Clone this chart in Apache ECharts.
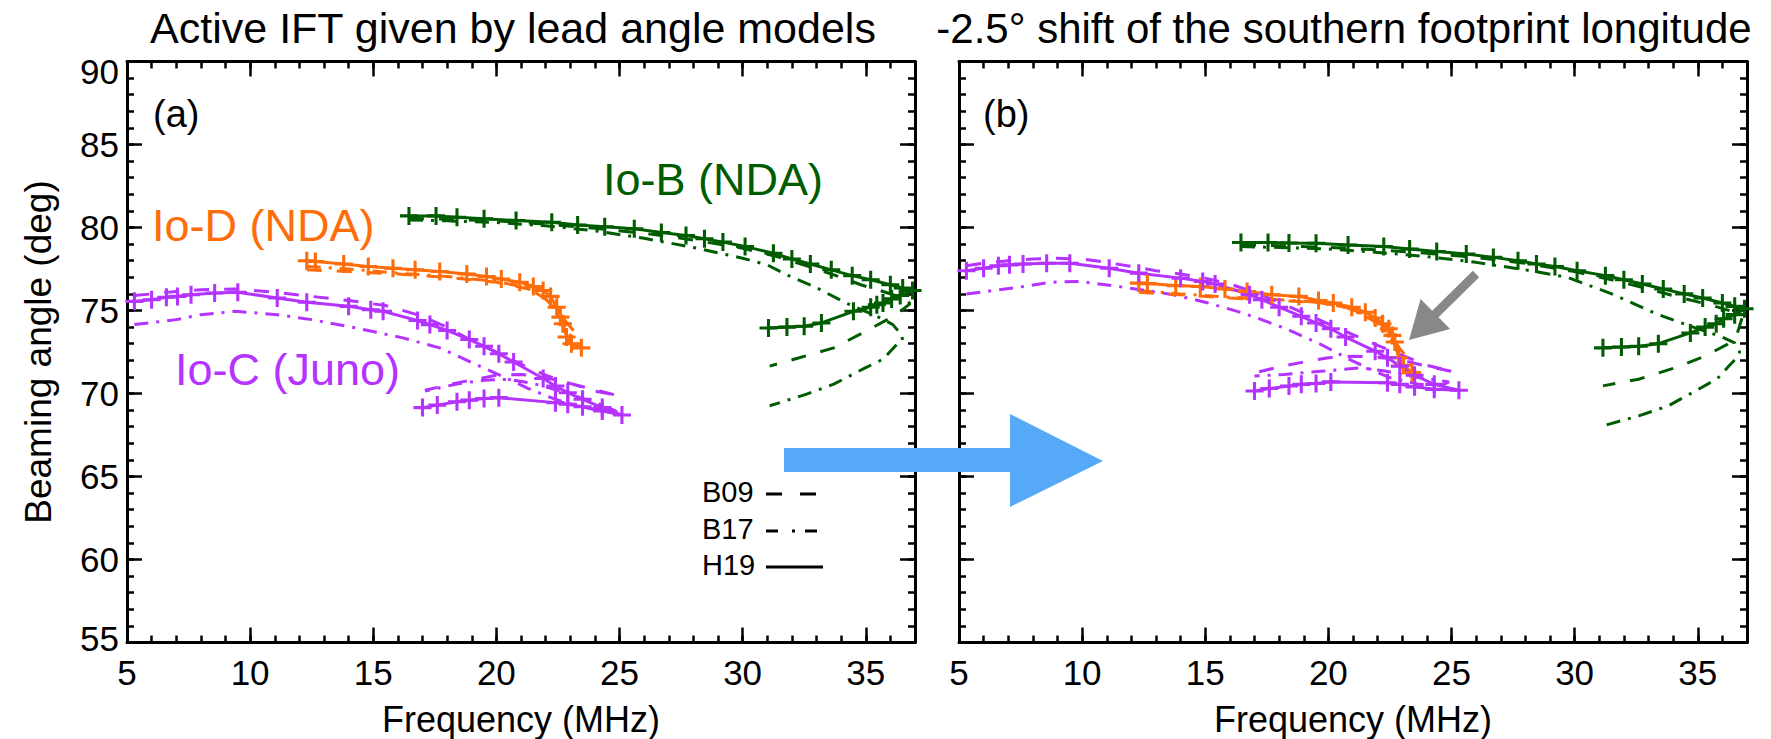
<!DOCTYPE html>
<html>
<head>
<meta charset="utf-8">
<script src="https://cdn.jsdelivr.net/npm/echarts/dist/echarts.min.js"></script>
<style>html,body{margin:0;padding:0;background:#fff}#chart{width:1771px;height:739px}</style>
</head>
<body>
<div id="chart"></div>
<script>
// ---------- tick labels / axis ranges ----------
const xRange = [5, 37];
const yRange = [55, 90];
const xMajorStep = 5, xMinorStep = 1;
const yMajorStep = 5, yMinorStep = 1;
const panelTitles = ['Active IFT given by lead angle models', '-2.5\u00b0 shift of the southern footprint longitude'];
const panelLetters = ['(a)', '(b)'];
const modelNames = ['B09', 'B17', 'H19'];
const iftNames = ['Io-B (NDA)', 'Io-D (NDA)', 'Io-C (Juno)'];

// ---------- panel (a): lead angle models ----------
const A_IoB_H19 = [[16.45,80.7],[17.55,80.7],[18.4,80.62],[19.5,80.52],[20.8,80.42],[22.25,80.32],[23.3,80.15],[24.4,80.05],[25.6,79.92],[26.7,79.7],[27.7,79.52],[28.45,79.32],[29.2,79.12],[30.1,78.85],[31.25,78.45],[32.0,78.1],[32.75,77.8],[33.6,77.45],[34.45,77.1],[35.2,76.85],[36.0,76.55],[36.5,76.35],[36.9,76.2],[36.4,75.9],[36.05,75.7],[35.7,75.45],[35.45,75.35],[35.2,75.2],[34.5,74.95],[33.2,74.25],[32.5,74.05],[31.8,74.0],[31.05,73.95]];
const A_IoB_B09 = [[16.45,80.55],[18,80.5],[20,80.4],[22,80.2],[24,79.95],[26,79.65],[28,79.25],[30,78.75],[31.5,78.2],[33,77.5],[34,77.0],[34.8,76.55],[35.8,76.1],[36.6,75.7],[36.8,75.4],[36.4,74.95],[36.0,74.55],[35.0,73.75],[33.7,72.75],[32.3,72.15],[31.1,71.65]];
const A_IoB_B17 = [[16.45,80.45],[18,80.4],[20,80.3],[22,80.1],[24,79.8],[26,79.35],[28,78.8],[30,78.15],[31,77.75],[32,77.0],[32.9,76.45],[34.2,75.45],[35.6,74.55],[36.1,74.15],[36.45,73.55],[36.5,73.2],[36.26,72.96],[35.7,72.06],[35.0,71.56],[33.7,70.56],[32.6,69.96],[31.1,69.26]];

const A_IoD_H19 = [[12.3,78.0],[12.65,77.95],[13.8,77.8],[14.8,77.65],[15.8,77.55],[16.7,77.45],[17.7,77.35],[18.8,77.2],[19.6,77.05],[20.2,76.9],[20.95,76.7],[21.5,76.45],[21.9,76.2],[22.2,75.85],[22.45,75.2],[22.6,74.6],[22.7,74.2],[22.85,73.4],[23.05,73.0],[23.45,72.75]];
const A_IoD_B09 = [[12.3,77.45],[14,77.35],[16,77.2],[18,77.0],[20,76.7],[21.3,76.3],[22.0,75.7],[22.5,74.9],[22.9,74.2],[23.15,73.75]];
const A_IoD_B17 = [[12.3,77.65],[14,77.5],[16,77.25],[18,77.05],[20,76.75],[21.3,76.35],[22.1,75.6],[22.6,74.6],[23.0,73.5],[23.3,72.9]];

const A_IoC_H19 = [[5.3,75.55],[6.0,75.65],[6.6,75.8],[7.05,75.85],[7.6,75.95],[8.56,76.05],[9.5,76.1],[11.1,75.75],[12.3,75.5],[14.0,75.25],[14.9,75.05],[15.4,74.95],[16.8,74.4],[17.3,74.15],[18.0,73.8],[18.9,73.25],[19.5,72.85],[20.1,72.4],[20.7,71.9],[21.9,70.9],[22.4,70.45],[22.9,70.05],[23.5,69.65],[24.3,69.15],[25.1,68.7],[24.3,68.95],[23.5,69.2],[22.9,69.35],[22.4,69.45],[20.1,69.75],[19.5,69.7],[18.9,69.6],[18.4,69.5],[17.6,69.3],[17.0,69.15]];
const A_IoC_B09 = [[5.3,75.9],[6,76.0],[7,76.15],[8,76.25],[9.4,76.3],[11,76.1],[12.5,75.85],[14,75.6],[15.5,75.3],[16.9,74.7],[18,74.0],[19.1,73.1],[20,72.5],[21,71.75],[22,71.1],[23,70.6],[24,70.15],[25.0,69.85],[24.2,70.15],[23.0,70.6],[22.0,70.95],[21.0,71.15],[20.0,71.1],[18.6,70.7],[17.1,70.2]];
const A_IoC_B17 = [[5.3,74.15],[7.0,74.45],[8.0,74.75],[9.4,74.95],[11.1,74.75],[12.5,74.45],[14.3,73.95],[16.2,73.35],[17.7,72.75],[19.1,71.8],[20.3,71.0],[21.3,70.3],[22.3,69.7],[23.3,69.25],[24.3,68.95],[24.9,68.9],[24.5,69.2],[23.5,69.7],[22.5,70.2],[21.5,70.6],[20.5,70.85],[19.5,70.8],[18.5,70.6],[17.7,70.35],[17.1,70.15]];

// ---------- panel (b): -2.5 deg shift ----------
const B_IoB_H19 = [[16.45,79.1],[17.55,79.1],[18.4,79.07],[19.5,79.05],[20.8,78.95],[22.25,78.85],[23.3,78.7],[24.4,78.55],[25.6,78.4],[26.7,78.2],[27.7,78.0],[28.45,77.8],[29.2,77.65],[30.1,77.4],[31.25,77.1],[32.0,76.85],[32.75,76.6],[33.6,76.3],[34.45,76.0],[35.2,75.75],[36.0,75.45],[36.5,75.25],[36.9,75.1],[36.5,74.75],[36.05,74.5],[35.75,74.2],[35.3,74.0],[34.7,73.65],[33.4,73.0],[32.6,72.85],[31.9,72.8],[31.15,72.75]];
const B_IoB_B09 = [[16.45,78.95],[18,78.9],[20,78.8],[22,78.65],[24,78.45],[26,78.2],[28,77.85],[30,77.35],[31.5,76.85],[33,76.3],[34.1,75.85],[35.6,75.3],[36.5,74.9],[36.8,74.55],[36.6,73.6],[36.2,72.96],[35.3,72.26],[34.1,71.56],[32.6,70.86],[31.15,70.46]];
const B_IoB_B17 = [[16.45,78.85],[18,78.8],[20,78.7],[22,78.5],[24,78.25],[26,77.9],[28,77.45],[29.7,77.0],[31.6,75.95],[33.4,74.75],[34.9,73.95],[35.9,73.45],[36.5,73.05],[36.7,72.5],[36.55,72.1],[36.2,71.55],[35.8,70.9],[34.9,70.15],[33.8,69.25],[32.6,68.65],[31.15,68.05]];

const B_IoD_H19 = [[12.3,76.65],[12.65,76.62],[13.8,76.5],[14.8,76.45],[15.8,76.3],[16.7,76.15],[17.7,75.95],[18.8,75.85],[19.6,75.6],[20.2,75.45],[20.95,75.2],[21.5,74.9],[21.9,74.55],[22.2,74.2],[22.45,73.9],[22.6,73.5],[22.7,73.1],[22.85,72.15],[23.05,71.7],[23.4,71.26]];
const B_IoD_B09 = [[12.3,76.1],[14,75.95],[16,75.75],[18,75.6],[19.5,75.5],[20.7,75.2],[21.6,74.7],[22.2,74.1],[22.6,73.4],[22.9,72.7],[23.2,72.2]];
const B_IoD_B17 = [[12.3,76.2],[14,76.0],[16,75.8],[18,75.65],[19.5,75.5],[20.7,75.2],[21.6,74.6],[22.2,74.0],[22.6,73.2],[22.9,72.4],[23.3,71.8]];

const B_IoC_H19 = [[5.3,77.4],[6.0,77.55],[6.6,77.7],[7.05,77.75],[7.6,77.8],[8.56,77.85],[9.5,77.85],[11.1,77.55],[12.3,77.25],[14.0,76.95],[14.9,76.75],[15.4,76.6],[16.8,75.95],[17.3,75.65],[18.0,75.2],[18.9,74.65],[19.5,74.25],[20.1,73.9],[20.7,73.4],[21.9,72.55],[22.4,72.15],[22.9,71.65],[23.5,71.1],[24.3,70.55],[25.3,70.2],[24.3,70.25],[23.5,70.4],[22.9,70.55],[22.4,70.65],[20.1,70.7],[19.5,70.6],[18.9,70.55],[18.4,70.45],[17.6,70.3],[17.0,70.15]];
const B_IoC_B09 = [[5.3,77.7],[6,77.85],[7,78.0],[8,78.1],[9,78.15],[10,78.1],[11,77.9],[12,77.65],[13,77.4],[14,77.2],[15,76.95],[16,76.6],[17,76.1],[18,75.5],[19,74.85],[20,74.2],[21,73.55],[22,72.9],[23,72.3],[24,71.7],[25.1,71.3],[24,71.65],[23,72.0],[22,72.2],[21,72.25],[20,72.15],[19,71.9],[18,71.6],[17,71.25]];
const B_IoC_B17 = [[5.3,76.0],[7.2,76.35],[8.7,76.7],[9.9,76.75],[11.7,76.4],[13.7,75.95],[15.0,75.5],[16.3,74.95],[17.1,74.55],[18.2,73.95],[19.7,72.95],[21.0,71.95],[21.8,71.4],[22.5,70.95],[23.7,70.55],[24.6,70.5],[24.9,70.7],[23.5,71.0],[22.3,71.35],[21.3,71.55],[19.8,71.35],[18.2,71.15],[17.0,71.05]];

// ---------- styling ----------
const FONT = "'Liberation Sans', Arial, Helvetica, sans-serif";
const iftColors = { 'Io-B (NDA)': '#005C00', 'Io-D (NDA)': '#FF6C0A', 'Io-C (Juno)': '#B433FF' };
const modelDash = { B09: [15, 15], B17: [14, 8, 3, 8], H19: 'solid' };
const PLUS = 'path://M-1,-0.17L-0.17,-0.17L-0.17,-1L0.17,-1L0.17,-0.17L1,-0.17L1,0.17L0.17,0.17L0.17,1L-0.17,1L-0.17,0.17L-1,0.17Z';

const panelData = [
  { 'Io-B (NDA)': { B09: A_IoB_B09, B17: A_IoB_B17, H19: A_IoB_H19 },
    'Io-D (NDA)': { B09: A_IoD_B09, B17: A_IoD_B17, H19: A_IoD_H19 },
    'Io-C (Juno)': { B09: A_IoC_B09, B17: A_IoC_B17, H19: A_IoC_H19 } },
  { 'Io-B (NDA)': { B09: B_IoB_B09, B17: B_IoB_B17, H19: B_IoB_H19 },
    'Io-D (NDA)': { B09: B_IoD_B09, B17: B_IoD_B17, H19: B_IoD_H19 },
    'Io-C (Juno)': { B09: B_IoC_B09, B17: B_IoC_B17, H19: B_IoC_H19 } }
];

const gridLeft = [127, 959];
const gridTop = 61.5, gridW = 788, gridH = 581;

const grids = gridLeft.map(l => ({ left: l, top: gridTop, width: gridW, height: gridH, containLabel: false, outerBoundsMode: 'none' }));

const TICK_FS = 35;
const axisLineStyle = { color: '#000', width: 3 };
function xAxesFor(g) {
  const base = { gridIndex: g, type: 'value', min: xRange[0], max: xRange[1], splitLine: { show: false }, nameMoveOverlap: false };
  return [
    Object.assign({}, base, { position: 'bottom', interval: xMajorStep,
      axisLine: { show: true, onZero: false, lineStyle: axisLineStyle },
      axisTick: { show: true, inside: true, length: 15, lineStyle: { color: '#000', width: 2.5 } },
      axisLabel: { show: true, fontSize: TICK_FS, fontFamily: FONT, color: '#000', margin: 12, showMaxLabel: false, showMinLabel: true },
      name: 'Frequency (MHz)', nameLocation: 'middle', nameGap: 59,
      nameTextStyle: { fontSize: 36, fontFamily: FONT, color: '#000' } }),
    Object.assign({}, base, { position: 'top', interval: xMajorStep,
      axisLine: { show: true, onZero: false, lineStyle: axisLineStyle },
      axisTick: { show: true, inside: true, length: 15, lineStyle: { color: '#000', width: 2.5 } },
      axisLabel: { show: false } }),
    Object.assign({}, base, { position: 'bottom', interval: xMinorStep,
      axisLine: { show: false, onZero: false },
      axisTick: { show: true, inside: true, length: 7, lineStyle: { color: '#000', width: 2.5 } },
      axisLabel: { show: false } }),
    Object.assign({}, base, { position: 'top', interval: xMinorStep,
      axisLine: { show: false, onZero: false },
      axisTick: { show: true, inside: true, length: 7, lineStyle: { color: '#000', width: 2.5 } },
      axisLabel: { show: false } })
  ];
}
function yAxesFor(g) {
  const base = { gridIndex: g, type: 'value', min: yRange[0], max: yRange[1], splitLine: { show: false }, nameMoveOverlap: false };
  const left = Object.assign({}, base, { position: 'left', interval: yMajorStep,
      axisLine: { show: true, onZero: false, lineStyle: axisLineStyle },
      axisTick: { show: true, inside: true, length: 15, lineStyle: { color: '#000', width: 2.5 } },
      axisLabel: { show: g === 0, fontSize: TICK_FS, fontFamily: FONT, color: '#000', margin: 8,
        formatter: v => v === yRange[1] ? '{t|' + v + '}' : (v === yRange[0] ? '{b|' + v + '}' : String(v)),
        rich: { t: { fontSize: TICK_FS, fontFamily: FONT, color: '#000', padding: [20, 0, 0, 0] },
                b: { fontSize: TICK_FS, fontFamily: FONT, color: '#000', padding: [0, 0, 8, 0] } } } });
  if (g === 0) {
    Object.assign(left, { name: 'Beaming angle (deg)', nameLocation: 'middle', nameGap: 70, nameRotate: 90,
      nameTextStyle: { fontSize: 37, fontFamily: FONT, color: '#000' } });
  }
  return [
    left,
    Object.assign({}, base, { position: 'right', interval: yMajorStep,
      axisLine: { show: true, onZero: false, lineStyle: axisLineStyle },
      axisTick: { show: true, inside: true, length: 15, lineStyle: { color: '#000', width: 2.5 } },
      axisLabel: { show: false } }),
    Object.assign({}, base, { position: 'left', interval: yMinorStep,
      axisLine: { show: false, onZero: false },
      axisTick: { show: true, inside: true, length: 7, lineStyle: { color: '#000', width: 2.5 } },
      axisLabel: { show: false } }),
    Object.assign({}, base, { position: 'right', interval: yMinorStep,
      axisLine: { show: false, onZero: false },
      axisTick: { show: true, inside: true, length: 7, lineStyle: { color: '#000', width: 2.5 } },
      axisLabel: { show: false } })
  ];
}

const series = [];
panelData.forEach((pd, p) => {
  ['B17', 'B09', 'H19'].forEach(model => {
    iftNames.forEach(ift => {
      const isH = model === 'H19';
      series.push({
        type: 'line', name: ift + ' ' + model,
        xAxisIndex: p * 4, yAxisIndex: p * 4,
        data: pd[ift][model],
        showSymbol: isH, showAllSymbol: true, symbol: PLUS, symbolSize: 18,
        itemStyle: { color: iftColors[ift], borderWidth: 0 },
        lineStyle: { color: iftColors[ift], width: 3, type: modelDash[model] },
        smooth: false, silent: true, animation: false, z: isH ? 4 : 3
      });
    });
  });
});

// ---------- annotations ----------
function txt(x, y, text, size, color, align) {
  return { type: 'text', x: x, y: y, z: 50, silent: true,
    style: { text: text, fontSize: size, fontFamily: FONT, fill: color || '#000',
      textAlign: align || 'left', align: align || 'left', textVerticalAlign: 'middle', verticalAlign: 'middle' } };
}
const graphics = [];
graphics.push(txt(513, 28, panelTitles[0], 43, '#000', 'center'));
graphics.push(txt(1344, 28, panelTitles[1], 42, '#000', 'center'));
graphics.push(txt(153, 114, panelLetters[0], 38));
graphics.push(txt(983, 114, panelLetters[1], 38));
graphics.push(txt(152, 225, iftNames[1], 45, iftColors['Io-D (NDA)']));
graphics.push(txt(175, 369, iftNames[2], 45, iftColors['Io-C (Juno)']));
graphics.push(txt(603, 179, iftNames[0], 45, iftColors['Io-B (NDA)']));

// legend
const legendRows = [
  { name: modelNames[0], y: 492, dash: [16, 18] },
  { name: modelNames[1], y: 529, dash: [12, 14, 3, 10] },
  { name: modelNames[2], y: 565, dash: null }
];
legendRows.forEach(r => {
  graphics.push(txt(702, r.y, r.name, 29));
  graphics.push({ type: 'polyline', z: 50, silent: true, shape: { points: [[766, r.y + 2], [823, r.y + 2]] },
    style: { stroke: '#000', lineWidth: 3, fill: null, lineDash: r.dash } });
});

// blue arrow between panels
graphics.push({ type: 'polygon', z: 60, silent: true,
  shape: { points: [[784, 448], [1010, 448], [1010, 414], [1103, 461], [1010, 507], [1010, 472], [784, 472]] },
  style: { fill: '#55A9F7', stroke: null } });

// gray arrow in panel b
(function () {
  const T = [1476, 274], P = [1409, 340];
  const L = Math.hypot(P[0] - T[0], P[1] - T[1]);
  const d = [(P[0] - T[0]) / L, (P[1] - T[1]) / L];
  const n = [-d[1], d[0]];
  const hl = 37, hw = 21, sw = 4.5;
  const B = [P[0] - d[0] * hl, P[1] - d[1] * hl];
  const pt = (o, k) => [o[0] + n[0] * k, o[1] + n[1] * k];
  graphics.push({ type: 'polygon', z: 60, silent: true,
    shape: { points: [pt(T, sw), pt(B, sw), pt(B, hw), P, pt(B, -hw), pt(B, -sw), pt(T, -sw)] },
    style: { fill: '#888888', stroke: null } });
})();

const chart = echarts.init(document.getElementById('chart'), null, { renderer: 'svg', width: 1771, height: 739 });
chart.setOption({
  backgroundColor: '#ffffff',
  animation: false,
  grid: grids,
  xAxis: xAxesFor(0).concat(xAxesFor(1)),
  yAxis: yAxesFor(0).concat(yAxesFor(1)),
  series: series,
  graphic: { elements: graphics }
});
</script>
</body>
</html>
